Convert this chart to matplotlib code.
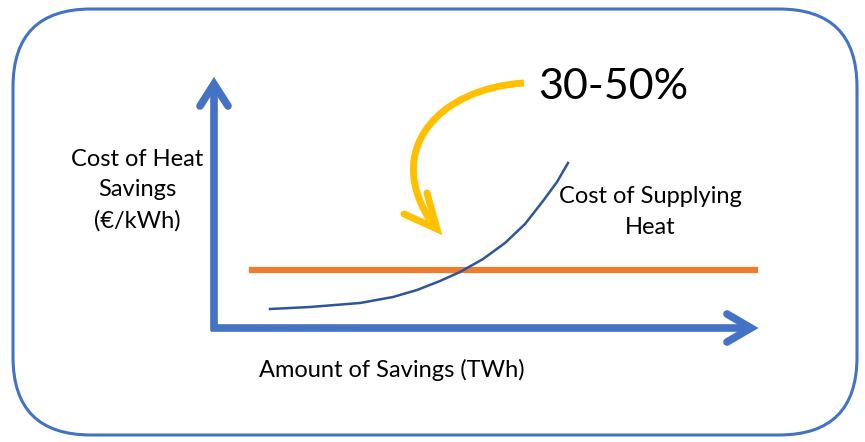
import matplotlib.pyplot as plt
from matplotlib.patches import FancyBboxPatch, Path, PathPatch

plt.rcParams['font.family'] = ['Lato', 'DejaVu Sans']

# canvas coordinates (pixels, y downward)
W, H = 865, 442

# cost-of-savings curve
curve_x = [270, 310, 360, 393, 417, 440, 460, 483, 505, 525, 543, 557, 568]
curve_y = [309, 307, 303, 297, 290, 281, 272, 259, 243, 224, 201, 182, 163]

# supply cost level
supply_y = 270
supply_x = [252, 755]

blue = '#4472C4'
orange = '#ED7D31'
yellow = '#FFC000'
navy = '#2F5597'

fig = plt.figure(figsize=(W / 100, H / 100), dpi=100)
ax = fig.add_axes([0, 0, 1, 1])
ax.set_xlim(0, W)
ax.set_ylim(H, 0)
ax.axis('off')

# rounded frame
frame = FancyBboxPatch((13, 9), 844, 426,
                       boxstyle='round,pad=0,rounding_size=78',
                       fc='white', ec=blue, lw=2.2)
ax.add_patch(frame)

# axes arrows
ax.plot([214, 214], [331, 84], color=blue, lw=5.5, solid_capstyle='butt')
ax.plot([211, 748], [328, 328], color=blue, lw=5.5, solid_capstyle='butt')
ax.plot([200, 214, 228], [106, 84, 106], color=blue, lw=5.5,
        solid_capstyle='round', solid_joinstyle='miter')
ax.plot([727, 751, 727], [314, 328, 342], color=blue, lw=5.5,
        solid_capstyle='round', solid_joinstyle='miter')

# supply cost and savings curve
ax.plot(supply_x, [supply_y, supply_y], color=orange, lw=4.5)
ax.plot(curve_x, curve_y, color=navy, lw=1.8, solid_joinstyle='round')

# curved highlight arrow
verts = [(524, 83), (440, 88), (380, 150), (434, 226)]
codes = [Path.MOVETO, Path.CURVE4, Path.CURVE4, Path.CURVE4]
ax.add_patch(PathPatch(Path(verts, codes), fc='none', ec=yellow, lw=5,
                       capstyle='butt'))
ax.plot([404, 437, 427], [214, 229, 193], color=yellow, lw=5,
        solid_capstyle='round', solid_joinstyle='miter')

# labels
ax.text(613, 87, '30-50%', fontsize=31, ha='center', va='center', color='black')
ax.text(137, 190, 'Cost of Heat\nSavings\n(€/kWh)', fontsize=17,
        ha='center', va='center', linespacing=1.55)
ax.text(650, 212, 'Cost of Supplying\nHeat', fontsize=17,
        ha='center', va='center', linespacing=1.55)
ax.text(392, 370, 'Amount of Savings (TWh)', fontsize=17,
        ha='center', va='center')

fig.savefig('out.png', dpi=100)
